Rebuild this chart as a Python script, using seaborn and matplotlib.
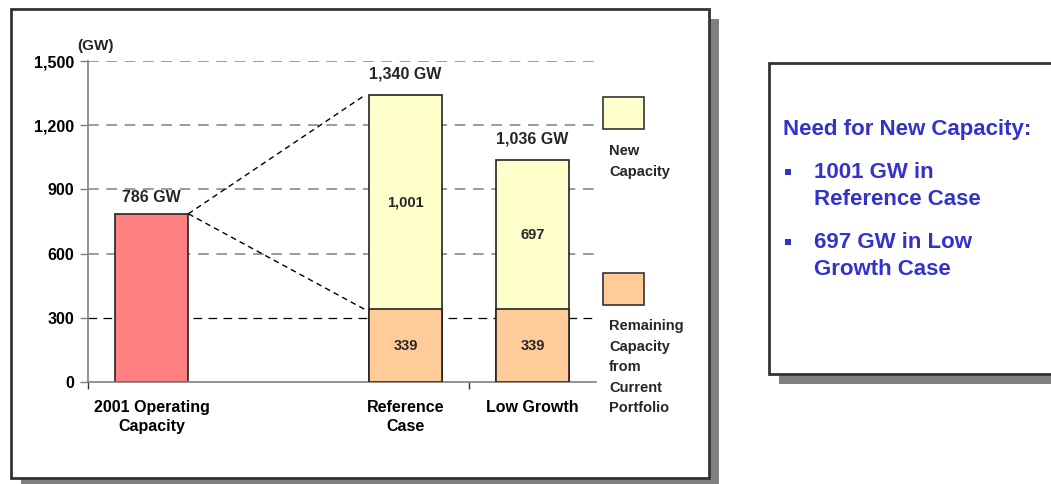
import matplotlib
matplotlib.use("Agg")
import matplotlib.pyplot as plt
import seaborn as sns
import pandas as pd
from matplotlib.patches import Rectangle

# ---- data -------------------------------------------------------------
slot_order = ["2001 Operating\nCapacity", " ", "Reference\nCase", "Low Growth"]
operating_label = "2001 Operating\nCapacity"
operating_2001 = 786
cases = ["Reference\nCase", "Low Growth"]
remaining_capacity = [339, 339]
new_capacity = [1001, 697]
y_ticks = [0, 300, 600, 900, 1200, 1500]

totals = [r + n for r, n in zip(remaining_capacity, new_capacity)]

RED = "#FF8080"
YELLOW = "#FFFFCC"
ORANGE = "#FFCC99"
EDGE = "#222222"
BLUE = "#3333CC"
W, H = 1051, 484

sns.set_theme(style="white")
plt.rcParams["font.family"] = ["Liberation Sans", "DejaVu Sans"]
plt.rcParams["font.weight"] = "bold"

fig = plt.figure(figsize=(W / 100, H / 100), dpi=100)
fig.patch.set_facecolor("white")


def fx(px):
    return px / W


def fy(py):
    return 1 - py / H


def box(x0, y0, x1, y1, shadow=10):
    fig.add_artist(Rectangle((fx(x0 + shadow), fy(y1 + shadow)),
                             fx(x1 - x0), (y1 - y0) / H,
                             transform=fig.transFigure, facecolor="#808080",
                             edgecolor="none", zorder=-3))
    fig.add_artist(Rectangle((fx(x0), fy(y1)), fx(x1 - x0), (y1 - y0) / H,
                             transform=fig.transFigure, facecolor="white",
                             edgecolor="#333333", linewidth=2, zorder=-2))


# panels
box(11, 9, 709, 478)
box(769, 63, 1070, 374)

ax = fig.add_axes([fx(88), fy(382), fx(596 - 88), 321 / H])
ax.set_facecolor("none")

# full-height bars (totals)
top_df = pd.DataFrame({
    "slot": [operating_label] + cases,
    "value": [operating_2001] + totals,
})
palette = {operating_label: RED, cases[0]: YELLOW, cases[1]: YELLOW}
sns.barplot(data=top_df, x="slot", y="value", hue="slot", palette=palette,
            order=slot_order, width=0.58, edgecolor=EDGE, linewidth=1.2,
            saturation=1, legend=False, dodge=False, ax=ax, zorder=2)

# remaining capacity segments at the bottom
low_df = pd.DataFrame({"slot": cases, "value": remaining_capacity})
sns.barplot(data=low_df, x="slot", y="value", order=slot_order, color=ORANGE,
            saturation=1, width=0.58, edgecolor=EDGE, linewidth=1.2,
            ax=ax, zorder=3)

ax.set_xlim(-0.5, 3.5)
ax.set_ylim(0, 1500)
ax.set_xlabel("")
ax.set_ylabel("")

# axes, ticks and grid
for side in ("top", "right"):
    ax.spines[side].set_visible(False)
for side in ("left", "bottom"):
    ax.spines[side].set_color("#808080")
    ax.spines[side].set_linewidth(1.2)

ax.set_yticks(y_ticks)
ax.set_yticklabels([f"{v:,}" for v in y_ticks], fontsize=11.5,
                   fontweight="bold", color="black")
ax.tick_params(axis="y", left=True, length=6, width=1, color="#808080", pad=4)

ax.set_xticks(range(len(slot_order)))
ax.set_xticklabels(slot_order, fontsize=11.5, fontweight="bold",
                   color="black", linespacing=1.35)
ax.set_xticks([-0.5, 2.5], minor=True)
ax.tick_params(axis="x", which="major", length=0, pad=13)
ax.tick_params(axis="x", which="minor", bottom=True, length=5, width=1,
               color="#333333")

ax.set_axisbelow(True)
ax.yaxis.grid(True, linestyle=(0, (7, 5)), linewidth=1.1, color="#808080")
ax.xaxis.grid(False)
grid_lines = ax.get_ygridlines()
grid_lines[0].set_visible(False)
grid_lines[1].set_color("black")
grid_lines[1].set_linewidth(0.9)

fig.text(fx(96), fy(46), "(GW)", ha="center", va="center", fontsize=11,
         fontweight="bold")

# value labels
half = 0.29
pos_op = slot_order.index(operating_label)
ax.annotate(f"{operating_2001:,} GW", (pos_op, operating_2001),
            xytext=(0, 6), textcoords="offset points", ha="center",
            va="bottom", fontsize=11.5, fontweight="bold")
for case, rem, new, tot in zip(cases, remaining_capacity, new_capacity, totals):
    p = slot_order.index(case)
    ax.annotate(f"{tot:,} GW", (p, tot), xytext=(0, 10),
                textcoords="offset points", ha="center", va="bottom",
                fontsize=11.5, fontweight="bold")
    ax.text(p, rem + new / 2, f"{new:,}", ha="center", va="center",
            fontsize=10.5, fontweight="bold", zorder=5)
    ax.text(p, rem / 2, f"{rem:,}", ha="center", va="center",
            fontsize=10.5, fontweight="bold", zorder=5)

# connector lines from the 2001 bar to the reference case bar
p_ref = slot_order.index(cases[0])
for target in (totals[0], remaining_capacity[0]):
    ax.plot([pos_op + half, p_ref - half - 0.03], [operating_2001, target],
            color="black", linewidth=1, linestyle=(0, (4, 3)), zorder=4,
            clip_on=False)

# legend swatches
for (y0, y1), color in (((97, 129), YELLOW), ((273, 305), ORANGE)):
    fig.add_artist(Rectangle((fx(603), fy(y1)), fx(41), (y1 - y0) / H,
                             transform=fig.transFigure, facecolor=color,
                             edgecolor="#333333", linewidth=1.2))
fig.text(fx(609), fy(144), "New\nCapacity", ha="left", va="top",
         fontsize=10.5, fontweight="bold", linespacing=1.6)
fig.text(fx(609), fy(319), "Remaining\nCapacity\nfrom\nCurrent\nPortfolio",
         ha="left", va="top", fontsize=10.5, fontweight="bold",
         linespacing=1.6)

# side note
fig.text(fx(783), fy(129), "Need for New Capacity:", ha="left", va="center",
         fontsize=16, fontweight="bold", color=BLUE)
for text, yc in (("1001 GW in\nReference Case", 172),
                 ("697 GW in Low\nGrowth Case", 242)):
    fig.add_artist(Rectangle((fx(785), fy(yc + 3)), fx(6), 6 / H,
                             transform=fig.transFigure, facecolor=BLUE,
                             edgecolor="none"))
    fig.text(fx(814), fy(yc - 10), text, ha="left", va="top", fontsize=16,
             fontweight="bold", color=BLUE, linespacing=1.4)

fig.savefig("out.png", dpi=100, facecolor="white")
